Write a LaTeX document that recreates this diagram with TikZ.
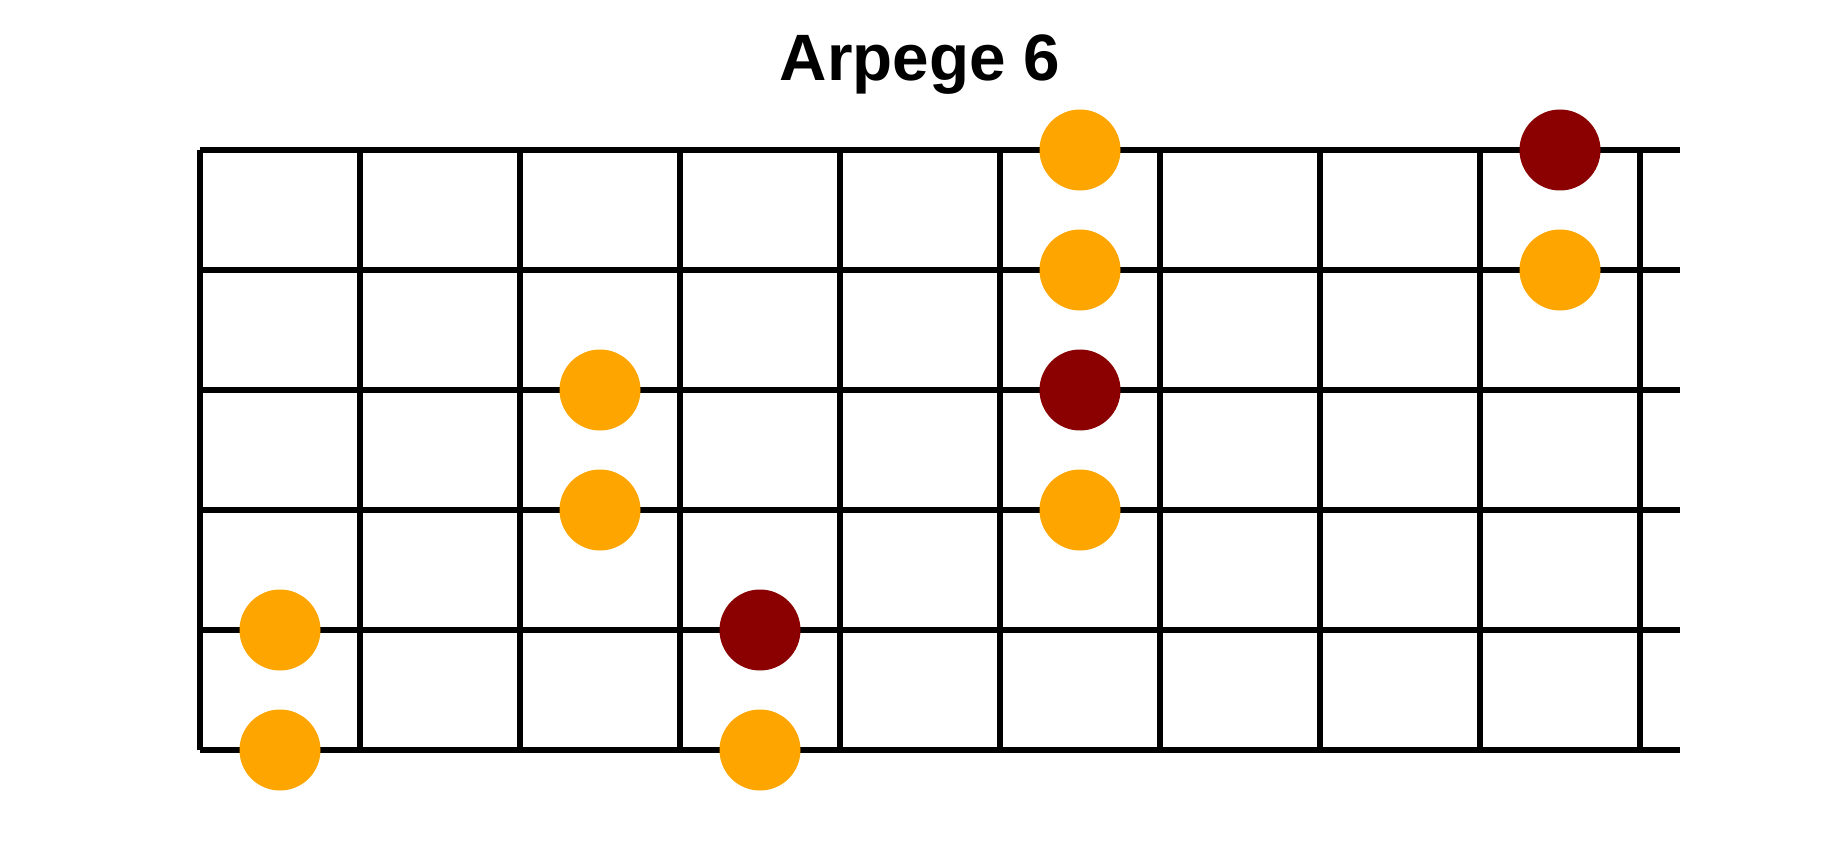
\documentclass[tikz,border=0pt]{standalone}
\usepackage{fontspec}
\setmainfont{Liberation Sans}
\definecolor{dotorange}{HTML}{FFA500}
\definecolor{dotred}{HTML}{8B0000}
\begin{document}
\begin{tikzpicture}[x=1pt,y=-1pt,
  gridline/.style={line width=5.5pt,black},
  note/.style={circle,inner sep=0pt,minimum size=81pt,draw=none},
  plain/.style={note,fill=dotorange},
  root/.style={note,fill=dotred}]
\useasboundingbox[fill=white] (0,0) rectangle (1840,850);
\node[anchor=base,font=\bfseries\fontsize{65.6}{70}\selectfont] (title) at (920,81) {Arpege 6};
% strings
\foreach \s in {0,...,5}
  \draw[gridline] (200,150+120*\s) -- (1680,150+120*\s);
% frets
\foreach \f in {0,...,9}
  \draw[gridline] (200+160*\f,150) -- (200+160*\f,750);
% dots
\node[plain] (d1) at (1080,150) {};
\node[root]  (d2) at (1560,150) {};
\node[plain] (d3) at (1080,270) {};
\node[plain] (d4) at (1560,270) {};
\node[plain] (d5) at (600,390) {};
\node[root]  (d6) at (1080,390) {};
\node[plain] (d7) at (600,510) {};
\node[plain] (d8) at (1080,510) {};
\node[plain] (d9) at (280,630) {};
\node[root]  (d10) at (760,630) {};
\node[plain] (d11) at (280,750) {};
\node[plain] (d12) at (760,750) {};
\end{tikzpicture}
\end{document}
